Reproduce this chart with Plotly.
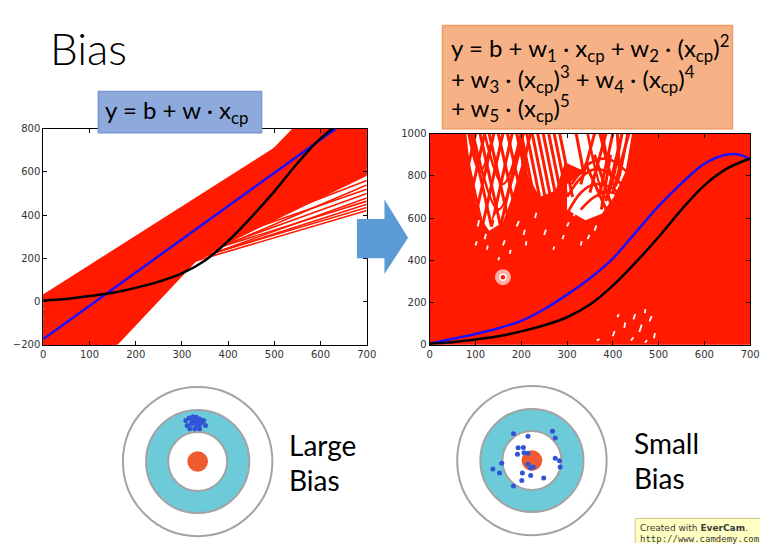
import plotly.graph_objects as go

# ---------------- data ----------------
# Left panel: linear fits y = b + w * x_cp (one per training set)
lin_b = [-20, -10, -30, -5, -60, -40, 0, -100, -20, -140,
         -60, 10, -180, -100, -30, 18, -200, -140, -240, -60,
         0, -180, -270, -100, -20, -220, -300, -150, 10, -60,
         -250, -340, -190, 18, -110, -300, -360, -30, -230, -390,
         -150, 5, -420, -300, -70, -200, -460, -350, 10, 18,
         -480, -250, -120, -400, -500, -300, -530, -180, -547, -450,
         -260, -540, -350, -470, -404, -165, -130,
         -120, -160, -195, -90, -50, -210, -230, -80, -45, 15, 15, 12]
lin_w = [0.630, 0.636, 0.686, 0.671, 0.771, 0.771, 0.743, 0.914, 0.829, 1.036,
         0.957, 0.857, 1.157, 1.043, 0.971, 0.903, 1.214, 1.157, 1.329, 1.071,
         1.014, 1.271, 1.429, 1.186, 1.100, 1.386, 1.529, 1.314, 1.086, 1.214,
         1.486, 1.643, 1.429, 1.131, 1.343, 1.614, 1.729, 1.257, 1.571, 1.800,
         1.486, 1.264, 1.900, 1.729, 1.429, 1.614, 2.014, 1.857, 1.343, 1.360,
         2.071, 1.743, 1.586, 1.986, 2.157, 1.871, 2.229, 1.729, 2.270, 2.157,
         1.886, 2.329, 2.057, 2.257, 2.200, 1.293, 1.043,
         1.171, 1.200, 1.364, 1.071, 0.986, 1.443, 1.357, 1.043, 0.921, 1.200, 1.300, 1.050]
avg_b = -174
avg_w = 1.539

# true function (black)
true_x = [0, 50, 100, 150, 200, 250, 300, 350, 400, 450, 500, 550, 600, 650, 700]
true_y = [5, 12, 25, 40, 63, 92, 130, 190, 280, 390, 510, 640, 755, 835, 882]

# Right panel: average of 5th-order fits (blue)
fit5_x = [0, 50, 100, 150, 200, 250, 300, 350, 400, 450, 500, 550, 600, 650, 680, 700]
fit5_y = [5, 28, 51, 78, 113, 168, 237, 315, 408, 532, 656, 764, 857, 901, 898, 877]

# Right panel: patches not reached by the individual 5th-order fits
gap_patches = [
    ([285, 372, 356, 330, 300], [1000, 1000, 880, 830, 860]),
    ([200, 285, 295, 275, 240, 215], [1000, 1000, 860, 730, 700, 800]),
    ([80, 200, 200, 180, 160, 130, 105, 90], [1000, 1000, 850, 700, 580, 540, 620, 800]),
    ([372, 442, 428, 402, 376, 340, 300, 300, 340], [1000, 1000, 820, 700, 620, 590, 640, 760, 820]),
]
# individual fits crossing those patches (straight arms)
arm_x0 = [70, 90, 110, 130, 150, 170, 190, 100, 120, 140, 160, 180, 200, 220,
          200, 212, 224, 236, 248, 260, 272, 284, 320,
          400, 420, 435, 385, 410, 372, 360, 360, 395, 340]
arm_y0 = [1000] * 30 + [900, 900, 860]
arm_x1 = [115, 135, 155, 175, 195, 215, 235, 55, 75, 95, 115, 135, 155, 175,
          228, 240, 252, 264, 276, 288, 300, 312, 335,
          370, 385, 400, 350, 415, 395, 330, 400, 375, 390]
arm_y1 = [560] * 14 + [700] * 8 + [830] + [700, 680, 720, 720, 800, 800, 760, 640, 640, 620]
# arched / U-shaped fits
arc_curves = [
    ([300, 335, 365, 400, 432], [700, 800, 832, 800, 720]),
    ([300, 330, 360, 400, 425], [620, 720, 760, 740, 680]),
    ([330, 360, 390, 420, 440], [640, 700, 722, 700, 660]),
    ([310, 350, 390, 430], [760, 860, 880, 820]),
    ([345, 385, 420], [1000, 700, 1000]),
    ([378, 405, 432], [1000, 750, 1000]),
    ([95, 150, 205], [1000, 640, 1000]),
    ([120, 160, 200], [1000, 760, 1000]),
    ([85, 110, 140], [1000, 820, 1000]),
]
# small gaps elsewhere
speck_x0 = [120, 160, 210, 250, 300, 330, 360, 190, 140, 270, 175, 125, 230, 290, 345, 105, 205, 315, 150, 100,
            365, 400, 425, 445, 458, 470, 480, 490, 440, 410, 470]
speck_y0 = [500, 470, 470, 520, 560, 470, 540, 560, 590, 450, 430, 450, 600, 500, 500, 560, 520, 610, 400, 470,
            20, 40, 80, 120, 60, 150, 110, 30, 20, 130, 10]
speck_x1 = [123, 164, 211, 254, 304, 332, 364, 195, 145, 272, 177, 127, 233, 293, 349, 108, 208, 318, 152, 103,
            371, 404, 427, 449, 463, 471, 485, 492, 445, 413, 475]
speck_y1 = [525, 495, 490, 545, 580, 490, 565, 585, 615, 465, 450, 470, 625, 520, 520, 590, 545, 630, 415, 490,
            27, 65, 105, 145, 95, 168, 135, 55, 35, 145, 22]

x_ticks = [0, 100, 200, 300, 400, 500, 600, 700]
y_ticks_left = [-200, 0, 200, 400, 600, 800]
y_ticks_right = [0, 200, 400, 600, 800, 1000]

# target diagrams (dot offsets from target centre, px)
large_dx = [-12, -8.7, -4.7, -1.3, 2, 6, -10.7, -6.3, -1.3, 2, 8, -8, -3, 2, -5.3, 0.3, -4, -1, -6, 4]
large_dy = [-41.7, -44.3, -45.7, -45, -43.3, -41.7, -36.7, -38.3, -40, -37.7, -36.7, -33.3, -33.3, -33.3, -42.3, -41.7, -41, -37, -40, -40]
small_dx = [-18.7, -4, 21, 23.7, -14, -8.7, -14.7, -8, -4, 23.7, 28, -30.7, -4, 1.3, 28.7, -39.7, -33, -9.7, -1.3, 12, -10.3, -18.7, -1.3]
small_dy = [-27.3, -24.7, -29.7, -23, -13, -13.3, -6.3, -8, -7.3, -2.3, 0.3, 2.7, 3.7, 6.7, 6.7, 8.7, 12.7, 12.7, 15.3, 17.7, 20.3, 26, 7.7]

RED = "#ff1a00"
fig = go.Figure()

# ---- left panel: linear fits ----
thin_x, thin_y, thick_x, thick_y = [], [], [], []
for b, w in zip(lin_b, lin_w):
    xs = [0, 700, None]
    ys = [b, b + w * 700, None]
    if b + w * 700 < 600:
        thin_x += xs; thin_y += ys
    else:
        thick_x += xs; thick_y += ys
fig.add_trace(go.Scatter(x=thick_x, y=thick_y, mode="lines", line=dict(color=RED, width=5.5),
                         xaxis="x", yaxis="y", showlegend=False, hoverinfo="skip"))
fig.add_trace(go.Scatter(x=thin_x, y=thin_y, mode="lines", line=dict(color=RED, width=1.6),
                         xaxis="x", yaxis="y", showlegend=False, hoverinfo="skip"))
fig.add_trace(go.Scatter(x=[0, 700], y=[avg_b, avg_b + avg_w * 700], mode="lines",
                         line=dict(color="#1a10ff", width=2.5), xaxis="x", yaxis="y", showlegend=False))
fig.add_trace(go.Scatter(x=true_x, y=true_y, mode="lines", line=dict(color="black", width=2.5, shape="spline"),
                         xaxis="x", yaxis="y", showlegend=False))

# ---- right panel ----
gx, gy = [], []
for xs, ys in gap_patches:
    gx += xs + [xs[0], None]; gy += ys + [ys[0], None]
fig.add_trace(go.Scatter(x=gx, y=gy, fill="toself", fillcolor="white", mode="none",
                         xaxis="x2", yaxis="y2", showlegend=False, hoverinfo="skip"))
ax, ay = [], []
for a, b_, c, d in zip(arm_x0, arm_y0, arm_x1, arm_y1):
    ax += [a, c, None]; ay += [b_, d, None]
fig.add_trace(go.Scatter(x=ax, y=ay, mode="lines", line=dict(color=RED, width=3),
                         xaxis="x2", yaxis="y2", showlegend=False, hoverinfo="skip"))
for xs, ys in arc_curves:
    fig.add_trace(go.Scatter(x=xs, y=ys, mode="lines", line=dict(color=RED, width=2.6, shape="spline"),
                             xaxis="x2", yaxis="y2", showlegend=False, hoverinfo="skip"))
sx, sy = [], []
for a, b_, c, d in zip(speck_x0, speck_y0, speck_x1, speck_y1):
    sx += [a, c, None]; sy += [b_, d, None]
fig.add_trace(go.Scatter(x=sx, y=sy, mode="lines", line=dict(color="white", width=1.8),
                         xaxis="x2", yaxis="y2", showlegend=False, hoverinfo="skip"))
# presenter cursor
fig.add_trace(go.Scatter(x=[160], y=[320], mode="markers",
                         marker=dict(size=16, color="rgba(255,225,220,0.75)"),
                         xaxis="x2", yaxis="y2", showlegend=False, hoverinfo="skip"))
fig.add_trace(go.Scatter(x=[160], y=[320], mode="markers",
                         marker=dict(size=6, color=RED, line=dict(color="white", width=1.5)),
                         xaxis="x2", yaxis="y2", showlegend=False, hoverinfo="skip"))
fig.add_trace(go.Scatter(x=fit5_x, y=fit5_y, mode="lines", line=dict(color="#1a10ff", width=2.5, shape="spline"),
                         xaxis="x2", yaxis="y2", showlegend=False))
fig.add_trace(go.Scatter(x=true_x, y=true_y, mode="lines", line=dict(color="black", width=2.5, shape="spline"),
                         xaxis="x2", yaxis="y2", showlegend=False))

# ---- targets (overlay pixel axis x3/y3) ----
targets = [(198, 465, large_dx, large_dy), (538, 464, small_dx, small_dy)]
shapes = []
for (tx, ty, dxs, dys) in targets:
    for r, fill in [(76, "white"), (52.5, "#6ccad9"), (30, "white")]:
        shapes.append(dict(type="circle", xref="x3", yref="y3", x0=tx - r, x1=tx + r, y0=ty - r, y1=ty + r,
                           fillcolor=fill, line=dict(color="#a3a3a3", width=2), layer="below"))
    shapes.append(dict(type="circle", xref="x3", yref="y3", x0=tx - 10.5, x1=tx + 10.5, y0=ty - 10.5, y1=ty + 10.5,
                       fillcolor="#ef5a30", line=dict(width=0), layer="below"))
    fig.add_trace(go.Scatter(x=[tx + d for d in dxs], y=[ty + d for d in dys], mode="markers",
                             marker=dict(size=5, color="#2f55d6"), xaxis="x3", yaxis="y3",
                             showlegend=False, hoverinfo="skip"))

# right plot red coverage of all fits
shapes.append(dict(type="rect", xref="x2 domain", yref="y2 domain", x0=0, x1=1, y0=0, y1=1,
                   fillcolor=RED, line=dict(width=0), layer="below"))
# formula boxes
shapes.append(dict(type="rect", xref="x3", yref="y3", x0=97, x1=263, y0=88, y1=130,
                   fillcolor="#8eaadc", line=dict(color="#7b97cf", width=1.5), layer="below"))
shapes.append(dict(type="rect", xref="x3", yref="y3", x0=447, x1=742, y0=21, y1=126,
                   fillcolor="#f6b286", line=dict(color="#f09c64", width=1.5), layer="below"))
# arrow
shapes.append(dict(type="path", xref="x3", yref="y3",
                   path="M 360 218 L 388 218 L 388 198 L 412 237 L 388 274 L 388 258 L 360 258 Z",
                   fillcolor="#5b9bd5", line=dict(width=0), layer="below"))
# watermark box
shapes.append(dict(type="rect", xref="x3", yref="y3", x0=643, x1=775, y0=523, y1=560,
                   fillcolor="#ffffc4", line=dict(color="#cfc68f", width=1), layer="below"))

FONT = "Lato, 'Open Sans', sans-serif"
ann = []
def text(x, y, s, size, family=FONT, color="black", xanchor="left", weight="normal"):
    ann.append(dict(xref="x3", yref="y3", x=x, y=y, text=s, showarrow=False, xanchor=xanchor,
                    yanchor="middle", font=dict(family=family, size=size, color=color, weight=weight)))

text(46, 44, "Bias", 44, weight=300)
text(176, 108, "y = b + w · x<sub>cp</sub>", 24, xanchor="center")
text(454, 44, "y = b + w<sub>1</sub> · x<sub>cp</sub> + w<sub>2</sub> · (x<sub>cp</sub>)<sup>2</sup>", 24)
text(454, 75, "+ w<sub>3</sub> · (x<sub>cp</sub>)<sup>3</sup> + w<sub>4</sub> · (x<sub>cp</sub>)<sup>4</sup>", 24)
text(454, 105, "+ w<sub>5</sub> · (x<sub>cp</sub>)<sup>5</sup>", 24)
text(289, 448, "Large", 28)
text(289, 484, "Bias", 28)
text(640, 446, "Small", 28)
text(640, 482, "Bias", 28)
text(646, 533, "Created with <b>EverCam</b>.", 9, family="DejaVu Sans", color="#3a3a3a")
text(646, 544, "http://www.camdemy.com", 9, family="DejaVu Sans Mono", color="#3a3a3a")

axis_common = dict(showline=True, linecolor="black", linewidth=1, mirror="allticks", ticks="inside",
                   ticklen=4, tickcolor="black", showgrid=False, zeroline=False,
                   tickfont=dict(family="DejaVu Sans", size=10, color="#333"), fixedrange=True)

fig.update_layout(
    width=770, height=548, margin=dict(l=0, r=0, t=0, b=0),
    paper_bgcolor="white", plot_bgcolor="rgba(0,0,0,0)",
    xaxis=dict(domain=[41 / 770, 370 / 770], range=[0, 700], tickvals=x_ticks, anchor="y", **axis_common),
    yaxis=dict(domain=[1 - 346 / 548, 1 - 126 / 548], range=[-200, 800], tickvals=y_ticks_left, anchor="x", **axis_common),
    xaxis2=dict(domain=[434 / 770, 760 / 770], range=[0, 700], tickvals=x_ticks, anchor="y2", **axis_common),
    yaxis2=dict(domain=[1 - 346 / 548, 1 - 131 / 548], range=[0, 1000], tickvals=y_ticks_right, anchor="x2", **axis_common),
    xaxis3=dict(domain=[0, 1], range=[0, 770], visible=False, anchor="y3", fixedrange=True),
    yaxis3=dict(domain=[0, 1], range=[548, 0], visible=False, anchor="x3", fixedrange=True),
    shapes=shapes, annotations=ann, showlegend=False,
)
fig.write_html("out.html", config={"displayModeBar": False},
               post_script="document.body.style.margin='0px';document.body.style.overflow='hidden';")
